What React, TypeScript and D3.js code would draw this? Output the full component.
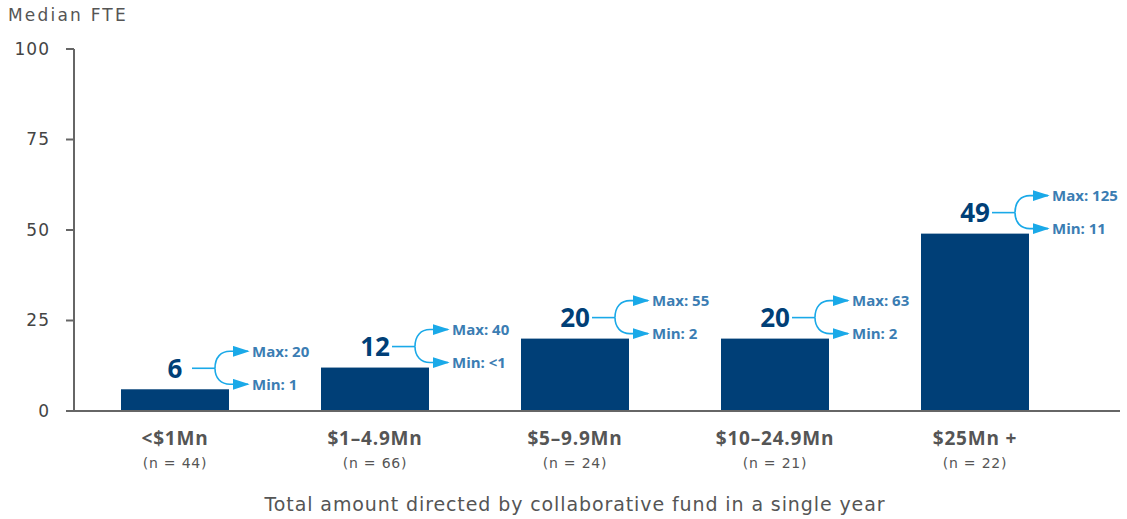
import React from 'react'
import * as d3 from 'd3'

const categories = ['<$1Mn', '$1–4.9Mn', '$5–9.9Mn', '$10–24.9Mn', '$25Mn +']
const sampleSizes = ['(n = 44)', '(n = 66)', '(n = 24)', '(n = 21)', '(n = 22)']
const medians = [6, 12, 20, 20, 49]
const maxLabels = ['20', '40', '55', '63', '125']
const minLabels = ['1', '<1', '2', '2', '11']
const yTicks = [0, 25, 50, 75, 100]

const width = 1127
const height = 519
const font = '"DejaVu Sans", sans-serif'
const boldFont = '"Open Sans", sans-serif'
const navy = '#003f77'
const arrowBlue = '#1aa9e8'
const labelBlue = '#3b7db3'
const gray = '#555'

export default function App() {
  const x = d3.scaleBand<string>()
    .domain(categories)
    .range([75, 1075])
    .paddingInner(0.46)
    .paddingOuter(0.23)

  const y = d3.scaleLinear()
    .domain([0, 100])
    .range([411, 49])

  return (
    <svg width={width} height={height} style={{ position: 'absolute', left: 0, top: 0 }}>
      <defs>
        <marker id="arrow" viewBox="0 0 10 10" refX="9" refY="5" markerWidth="17" markerHeight="11"
          markerUnits="userSpaceOnUse" orient="auto" preserveAspectRatio="none">
          <path d="M0,0 L10,5 L0,10 Z" fill={arrowBlue} />
        </marker>
      </defs>

      <text x={8} y={21} fontFamily={font} fontSize={17} letterSpacing={2.2} fill={gray}>Median FTE</text>

      {/* y axis */}
      <line x1={74} x2={74} y1={y(100)} y2={y(0)} stroke="#666" strokeWidth={2} />
      {yTicks.map(t => (
        <g key={t}>
          <line x1={66} x2={74} y1={y(t)} y2={y(t)} stroke="#666" strokeWidth={2} />
          <text x={50} y={y(t)} dy="0.35em" textAnchor="end" fontFamily={font} fontSize={17} letterSpacing={1} fill="#444">{t}</text>
        </g>
      ))}

      {/* bars */}
      {categories.map((c, i) => (
        <rect key={c} x={x(c)} y={y(medians[i])} width={x.bandwidth()} height={y(0) - y(medians[i])} fill={navy} />
      ))}

      {/* baseline */}
      <line x1={74} x2={1120} y1={y(0)} y2={y(0)} stroke="#666" strokeWidth={2} />

      {/* labels and min/max annotations */}
      {categories.map((c, i) => {
        const cx = x(c)! + x.bandwidth() / 2
        const cy = y(medians[i]) - 21
        const j = cx + 40
        const tip = cx + 73
        const top = cy - 17
        const bot = cy + 16
        return (
          <g key={c}>
            <text x={cx} y={cy} dy="0.36em" textAnchor="middle" fontFamily={boldFont} fontWeight="bold" fontSize={26} fill={navy}>{medians[i]}</text>
            <line x1={cx + 17} x2={j} y1={cy} y2={cy} stroke={arrowBlue} strokeWidth={1.6} />
            <path d={`M${j},${cy} C${j},${top + 6} ${j + 6},${top} ${j + 15},${top} L${tip},${top}`}
              fill="none" stroke={arrowBlue} strokeWidth={1.6} markerEnd="url(#arrow)" />
            <path d={`M${j},${cy} C${j},${bot - 6} ${j + 6},${bot} ${j + 15},${bot} L${tip},${bot}`}
              fill="none" stroke={arrowBlue} strokeWidth={1.6} markerEnd="url(#arrow)" />
            <text x={tip + 4} y={top} dy="0.35em" fontFamily={boldFont} fontWeight="bold" fontSize={15} fill={labelBlue}>Max: {maxLabels[i]}</text>
            <text x={tip + 4} y={bot} dy="0.35em" fontFamily={boldFont} fontWeight="bold" fontSize={15} fill={labelBlue}>Min: {minLabels[i]}</text>
          </g>
        )
      })}

      {/* category labels */}
      {categories.map((c, i) => {
        const cx = x(c)! + x.bandwidth() / 2
        return (
          <g key={c}>
            <text x={cx} y={445} textAnchor="middle" fontFamily={boldFont} fontWeight="bold" fontSize={19} letterSpacing={0.8} fill={gray}>{c}</text>
            <text x={cx} y={468} textAnchor="middle" fontFamily={font} fontSize={14} letterSpacing={0.8} fill={gray}>{sampleSizes[i]}</text>
          </g>
        )
      })}

      <text x={575} y={511} textAnchor="middle" fontFamily={font} fontSize={19} letterSpacing={0.9} fill={gray}>
        Total amount directed by collaborative fund in a single year
      </text>
    </svg>
  )
}
